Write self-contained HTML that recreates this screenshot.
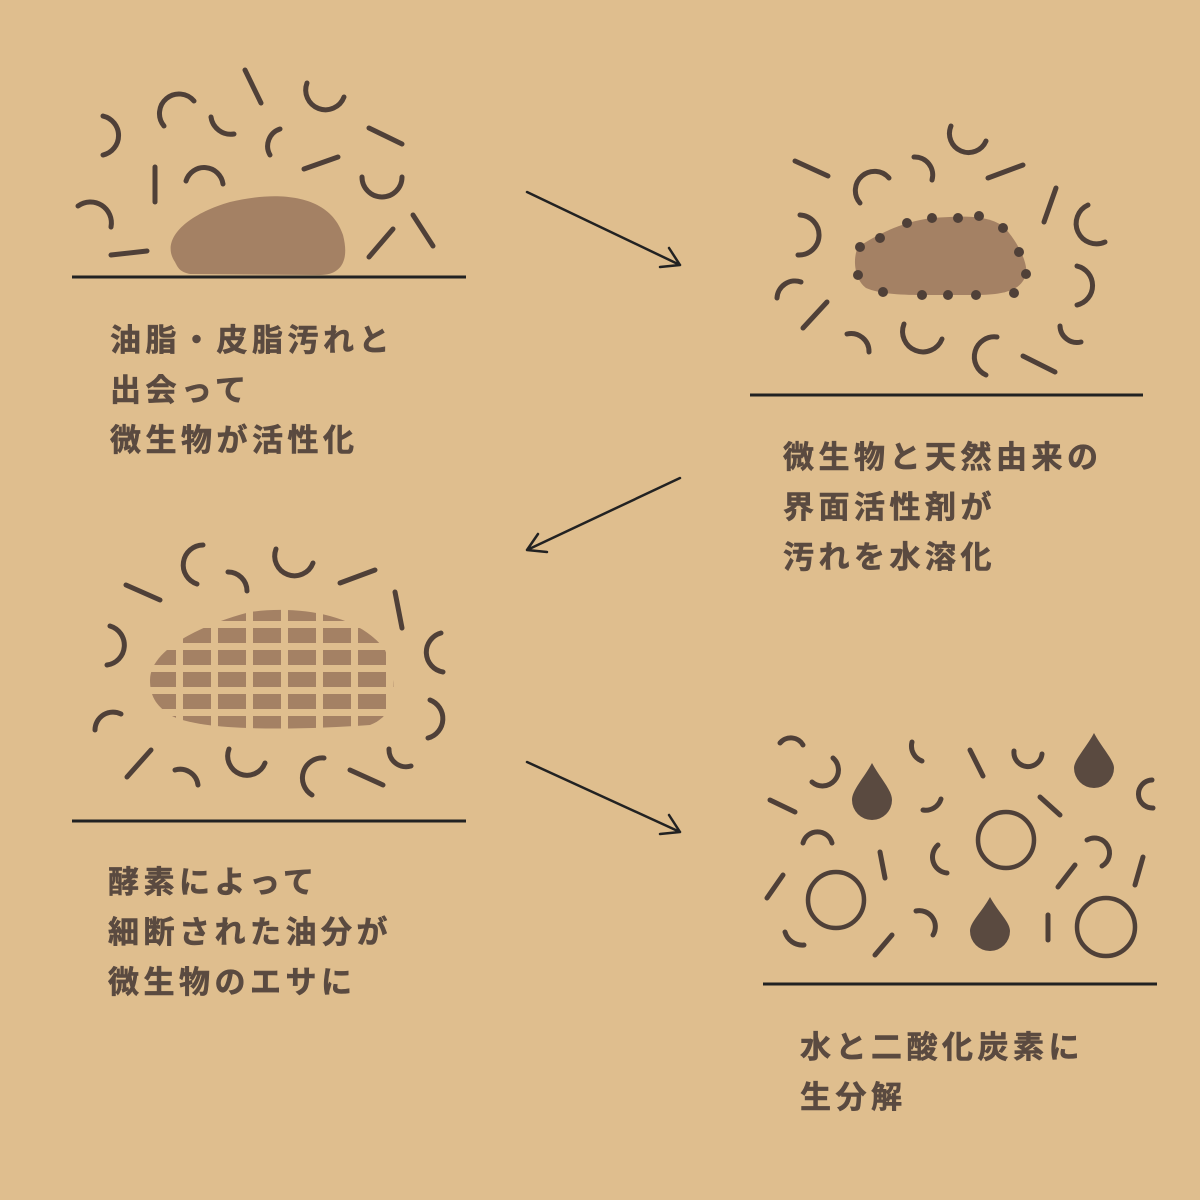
<!DOCTYPE html>
<html><head><meta charset="utf-8">
<style>
html,body{margin:0;padding:0;background:#dfbe8e;}
svg{display:block;}
.t{font-family:"Liberation Sans","Noto Sans CJK JP",sans-serif;font-weight:bold;font-size:31px;fill:#5a4a40;letter-spacing:4.5px;stroke:#5a4a40;stroke-width:0.6px;}
</style></head><body>
<svg width="1200" height="1200" viewBox="0 0 1200 1200" xmlns="http://www.w3.org/2000/svg">
<defs>
<pattern id="grid" x="148" y="606" width="35" height="22" patternUnits="userSpaceOnUse">
<rect x="0" y="0" width="28" height="15" fill="#a48164"/>
</pattern>
<clipPath id="cb"><path d="M150 680 C150 650 200 625 250 612 C300 605 360 615 385 650 C398 680 398 715 370 725 C300 730 200 732 170 715 C155 705 150 695 150 680Z"/></clipPath>
</defs>
<rect width="1200" height="1200" fill="#dfbe8e"/>

<!-- Panel 1 -->
<path d="M175 262 C160 240 185 215 230 202 C280 190 330 195 343 235 C350 262 340 275 320 275 L190 274 C180 272 178 268 175 262Z" fill="#a48164"/>
<g fill="none" stroke="#4f4038" stroke-width="5" stroke-linecap="round">
<path d="M103 116 A20 20 0 0 1 103 155"/>
<path d="M164 126 A18 18 0 0 1 194 101"/>
<path d="M245 70 L261 103"/>
<path d="M307 83 A19 19 0 0 0 344 97"/>
<path d="M211 117 A20 20 0 0 0 234 134"/>
<path d="M280 129 A18 18 0 0 0 270 155"/>
<path d="M369 128 L402 144"/>
<path d="M304 169 L338 157"/>
<path d="M186 181 A19 19 0 0 1 223 184"/>
<path d="M155 167 L155 202"/>
<path d="M362 177 A20 20 0 0 0 402 177"/>
<path d="M78 206 A21 21 0 0 1 111 227"/>
<path d="M111 255 L147 251"/>
<path d="M369 257 L393 229"/>
<path d="M413 215 L433 246"/>
</g>
<line x1="72" y1="277" x2="466" y2="277" stroke="#222" stroke-width="3"/>
<text class="t" x="110" y="351">油脂・皮脂汚れと</text>
<text class="t" x="110" y="401">出会って</text>
<text class="t" x="110" y="451">微生物が活性化</text>

<!-- Arrows -->
<g fill="none" stroke="#222" stroke-width="2.5" stroke-linecap="round" stroke-linejoin="round">
<path d="M527 192 L680 265 M669 248 L680 265 L660 267"/>
<path d="M680 478 L527 550 M547 552 L527 550 L538 534"/>
<path d="M527 762 L680 832 M669 815 L680 832 L660 834"/>
</g>

<!-- Panel 2 -->
<path d="M858 247 C875 236 900 222 932 218 C960 216 990 214 1005 228 C1020 245 1028 265 1026 274 C1022 290 1005 295 976 295 L922 295 C900 295 880 294 866 288 C855 280 852 260 858 247Z" fill="#a48164"/>
<g fill="#4f4038">
<circle cx="860" cy="247" r="5"/><circle cx="880" cy="238" r="5"/><circle cx="907" cy="223" r="5"/><circle cx="932" cy="218" r="5"/><circle cx="958" cy="218" r="5"/><circle cx="979" cy="216" r="5"/><circle cx="1003" cy="228" r="5"/><circle cx="1019" cy="252" r="5"/><circle cx="1026" cy="274" r="5"/><circle cx="1014" cy="293" r="5"/><circle cx="976" cy="295" r="5"/><circle cx="948" cy="295" r="5"/><circle cx="922" cy="295" r="5"/><circle cx="883" cy="292" r="5"/><circle cx="858" cy="275" r="5"/>
</g>
<g fill="none" stroke="#4f4038" stroke-width="5" stroke-linecap="round">
<path d="M951 126 A17 17 0 0 0 986 141"/>
<path d="M795 161 L828 176"/>
<path d="M860 203 A19 19 0 0 1 889 178"/>
<path d="M914 157 A18 18 0 0 1 932 180"/>
<path d="M988 178 L1023 165"/>
<path d="M1044 222 L1056 188"/>
<path d="M1088 205 A20 20 0 0 0 1105 242"/>
<path d="M800 215 A20 20 0 0 1 798 255"/>
<path d="M1077 266 A20 20 0 0 1 1077 305"/>
<path d="M777 298 A18 18 0 0 1 801 282"/>
<path d="M803 328 L827 302"/>
<path d="M847 334 A18 18 0 0 1 869 352"/>
<path d="M904 324 A19 19 0 0 0 942 339"/>
<path d="M997 337 A20 20 0 0 0 986 375"/>
<path d="M1060 326 A17 17 0 0 0 1081 342"/>
<path d="M1023 356 L1055 372"/>
</g>
<line x1="750" y1="395" x2="1143" y2="395" stroke="#222" stroke-width="3"/>
<text class="t" x="783" y="468">微生物と天然由来の</text>
<text class="t" x="783" y="518">界面活性剤が</text>
<text class="t" x="783" y="568">汚れを水溶化</text>

<!-- Panel 3 -->
<rect x="140" y="600" width="270" height="140" fill="url(#grid)" clip-path="url(#cb)"/>
<g fill="none" stroke="#4f4038" stroke-width="5" stroke-linecap="round">
<path d="M126 585 L160 600"/>
<path d="M203 545 A20 20 0 0 0 197 584"/>
<path d="M228 572 A19 19 0 0 1 247 591"/>
<path d="M276 549 A19 19 0 0 0 313 563"/>
<path d="M340 583 L375 570"/>
<path d="M395 592 L402 628"/>
<path d="M441 633 A20 20 0 0 0 443 672"/>
<path d="M110 626 A20 20 0 0 1 107 665"/>
<path d="M430 700 A20 20 0 0 1 428 738"/>
<path d="M95 730 A18 18 0 0 1 121 714"/>
<path d="M127 777 L151 750"/>
<path d="M175 770 A18 18 0 0 1 198 785"/>
<path d="M229 749 A19 19 0 0 0 265 763"/>
<path d="M324 758 A20 20 0 0 0 312 795"/>
<path d="M389 749 A17 17 0 0 0 411 766"/>
<path d="M350 770 L383 785"/>
</g>
<line x1="72" y1="821" x2="466" y2="821" stroke="#222" stroke-width="3"/>
<text class="t" x="108" y="893">酵素によって</text>
<text class="t" x="108" y="943">細断された油分が</text>
<text class="t" x="108" y="993">微生物のエサに</text>

<!-- Panel 4 -->
<g fill="#5a4a40">
<path d="M872 763 C880 778 892 790 892 800 A20 20 0 0 1 852 800 C852 790 864 778 872 763Z"/>
<path d="M1094 733 C1102 748 1114 760 1114 768 A20 20 0 0 1 1074 768 C1074 760 1086 748 1094 733Z"/>
<path d="M990 897 C998 912 1010 922 1010 931 A20 20 0 0 1 970 931 C970 922 982 912 990 897Z"/>
</g>
<g fill="none" stroke="#4f4038" stroke-width="4.5">
<circle cx="1006" cy="840" r="28"/>
<circle cx="836" cy="900" r="28"/>
<circle cx="1106" cy="927" r="29"/>
</g>
<g fill="none" stroke="#4f4038" stroke-width="5" stroke-linecap="round">
<path d="M780 743 A14 14 0 0 1 803 745"/>
<path d="M833 758 A15 15 0 0 1 812 782"/>
<path d="M912 742 A16 16 0 0 0 922 761"/>
<path d="M970 750 L983 776"/>
<path d="M1014 751 A14 14 0 0 0 1042 754"/>
<path d="M1152 780 A14 14 0 0 0 1153 808"/>
<path d="M770 800 L795 812"/>
<path d="M923 810 A16 16 0 0 0 941 799"/>
<path d="M1040 797 L1060 815"/>
<path d="M803 843 A15 15 0 0 1 832 843"/>
<path d="M880 852 L885 878"/>
<path d="M938 845 A16 16 0 0 0 947 873"/>
<path d="M1087 840 A15 15 0 0 1 1102 866"/>
<path d="M1058 887 L1075 865"/>
<path d="M1135 885 L1143 857"/>
<path d="M767 898 L783 875"/>
<path d="M785 932 A18 18 0 0 0 804 945"/>
<path d="M875 955 L892 935"/>
<path d="M916 911 A16 16 0 0 1 933 935"/>
<path d="M1048 915 L1048 940"/>
</g>
<line x1="763" y1="984" x2="1157" y2="984" stroke="#222" stroke-width="3"/>
<text class="t" x="800" y="1058">水と二酸化炭素に</text>
<text class="t" x="800" y="1108">生分解</text>
</svg>
</body></html>
